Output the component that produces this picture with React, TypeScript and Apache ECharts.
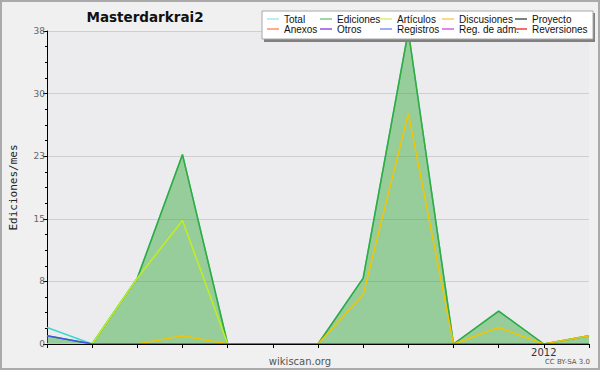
import React, { useEffect, useRef } from "react";
import * as echarts from "echarts";

const months = ["2011-02","2011-03","2011-04","2011-05","2011-06","2011-07","2011-08","2011-09","2011-10","2011-11","2011-12","2012-01","2012-02"];
const total = [2, 0, 8, 23, 0, 0, 0, 8, 38, 0, 4, 0, 1];
const ediciones = [1, 0, 8, 23, 0, 0, 0, 8, 38, 0, 4, 0, 1];
const articulos = [0, 0, 8, 15, 0, 0, 0, 0, 0, 0, 0, 0, 0];
const discusiones = [0, 0, 0, 1, 0, 0, 0, 6, 28, 0, 2, 0, 1];
const proyecto: (number | null)[] = [];
const anexos: (number | null)[] = [];
const otros: (number | null)[] = [];
const registros = [1, 0, 0, 0, 0, 0, 0, 0, 0, 0, 0, 0, 0];
const regAdm: (number | null)[] = [];
const reversiones: (number | null)[] = [];

const seriesNames = ["Total", "Ediciones", "Artículos", "Discusiones", "Proyecto", "Anexos", "Otros", "Registros", "Reg. de adm.", "Reversiones"];
const seriesData = [total, ediciones, articulos, discusiones, proyecto, anexos, otros, registros, regAdm, reversiones];
const seriesColors = ["#3fd6cf", "#35ab3c", "#c2ee1e", "#f2c500", "#555555", "#ff7f40", "#8040dd", "#4456e6", "#c844dd", "#ee3333"];
const legendIconColors = ["#a8e8e4", "#7cc88a", "#d8f070", "#f2cf60", "#555555", "#ff9060", "#9050e0", "#8090f0", "#d060e8", "#e84040"];

const legendCols = [267, 320, 380, 442, 515];
const legendRows = [14, 24];

export default function App() {
  const ref = useRef<HTMLDivElement>(null);
  useEffect(() => {
    if (!ref.current) return;
    const chart = echarts.init(ref.current, null, { renderer: "svg" });
    const legends = seriesNames.map((name, i) => ({
      data: [{ name, icon: "rect", itemStyle: { color: legendIconColors[i], borderWidth: 0 } }],
      left: legendCols[i % 5],
      top: legendRows[Math.floor(i / 5)],
      padding: 0,
      itemWidth: 12,
      itemHeight: 1.5,
      itemGap: 0,
      z: 20,
      selectedMode: false,
      textStyle: { fontSize: 10, color: "#111", fontFamily: "Liberation Sans", lineHeight: 10, padding: [0, 0, 0, 0] },
    }));
    chart.setOption({
      animation: false,
      backgroundColor: "#f0f0f0",
      grid: { left: 46, right: 11, top: 31, bottom: 26, show: true, backgroundColor: "#ececee", borderWidth: 0 },
      legend: legends,
      graphic: [
        { type: "rect", shape: { x: 1, y: 1, width: 598, height: 368 }, style: { fill: "none", stroke: "#aaaaaa", lineWidth: 2 }, z: 30 },
        { type: "rect", shape: { x: 264, y: 13, width: 331, height: 29 }, style: { fill: "#808080" }, z: 18 },
        { type: "rect", shape: { x: 262, y: 11, width: 331, height: 28 }, style: { fill: "#ffffff", stroke: "#a8a8a8", lineWidth: 1 }, z: 19 },
        { type: "text", x: 145, y: 17, style: { text: "Masterdarkrai2", font: "bold 13.5px 'DejaVu Sans'", fill: "#111", textAlign: "center", textVerticalAlign: "middle" }, z: 20 },
        { type: "text", x: 300, y: 361, style: { text: "wikiscan.org", font: "10px 'DejaVu Sans'", fill: "#555", textAlign: "center", textVerticalAlign: "middle" }, z: 20 },
        { type: "text", x: 590, y: 362, style: { text: "CC BY-SA 3.0", font: "7px 'DejaVu Sans'", fill: "#555", textAlign: "right", textVerticalAlign: "middle" }, z: 20 },
      ],
      xAxis: {
        type: "category",
        data: months,
        boundaryGap: false,
        z: 10,
        axisLine: { lineStyle: { color: "#000", width: 1 } },
        axisTick: { show: true, interval: 0, length: 4, lineStyle: { color: "#000" } },
        axisLabel: {
          interval: 0,
          margin: 3,
          fontSize: 10,
          color: "#333",
          fontFamily: "DejaVu Sans",
          formatter: (v: string) => (v.endsWith("-01") ? v.slice(0, 4) : ""),
        },
        splitLine: { show: false },
      },
      yAxis: {
        type: "value",
        min: 0,
        max: 38,
        interval: 7.6,
        name: "Ediciones/mes",
        nameLocation: "middle",
        nameGap: 28,
        nameTextStyle: { fontFamily: "DejaVu Sans Mono", fontSize: 11, color: "#222" },
        axisLine: { show: true, lineStyle: { color: "#000", width: 1 } },
        axisTick: { show: true, length: 4, lineStyle: { color: "#000" } },
        minorTick: { show: true, splitNumber: 4, length: 2, lineStyle: { color: "#000" } },
        axisLabel: { margin: 2, fontSize: 9, color: "#666", fontFamily: "DejaVu Sans", formatter: (v: number) => String(Math.round(v)) },
        splitLine: { show: true, lineStyle: { color: "#cfcfcf", width: 1 } },
      },
      series: seriesNames.map((name, i) => ({
        name,
        type: "line",
        data: seriesData[i],
        symbol: "none",
        color: seriesColors[i],
        lineStyle: { width: 1.5, color: seriesColors[i] },
        areaStyle: name === "Ediciones" ? { color: "#35ab3c", opacity: 0.47 } : undefined,
        z: 2 + i * 0.01,
      })),
    });
    return () => chart.dispose();
  }, []);
  return <div ref={ref} style={{ position: "fixed", left: 0, top: 0, width: 600, height: 370 }} />;
}
